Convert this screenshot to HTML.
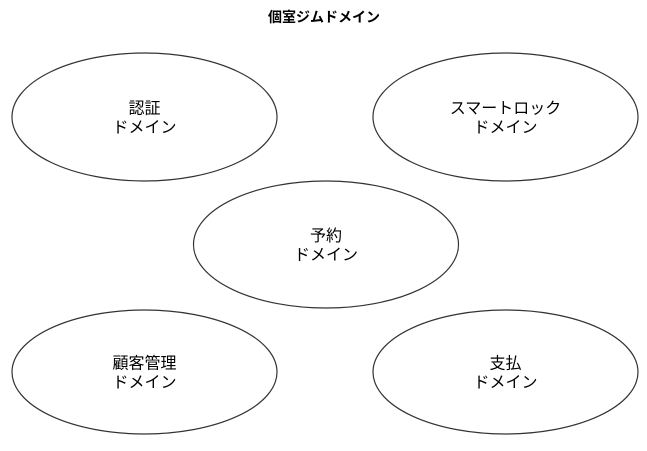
<!DOCTYPE html>
<html><head><meta charset="utf-8"><style>
body{margin:0;background:#fff;}
svg text{font-family:"Liberation Sans","Noto Sans CJK JP",sans-serif;fill:#000;}
</style></head><body>
<svg width="647" height="446" viewBox="0 0 647 446" xmlns="http://www.w3.org/2000/svg">
<rect width="647" height="446" fill="#fff"/>
<text x="324" y="22" font-size="14" font-weight="bold" text-anchor="middle">個室ジムドメイン</text>
<g fill="#fff" stroke="#333" stroke-width="1.2">
<ellipse cx="144.5" cy="117" rx="132.5" ry="64"/>
<ellipse cx="505.5" cy="117" rx="132.5" ry="64"/>
<ellipse cx="326" cy="244.5" rx="132.5" ry="63.5"/>
<ellipse cx="144.5" cy="372" rx="132.5" ry="62"/>
<ellipse cx="505.5" cy="372" rx="132.5" ry="62"/>
</g>
<g font-size="16" text-anchor="middle">
<text x="144.5" y="113.5">認証</text><text x="144.5" y="132.5">ドメイン</text>
<text x="505.5" y="113.5">スマートロック</text><text x="505.5" y="132.5">ドメイン</text>
<text x="326" y="241">予約</text><text x="326" y="260">ドメイン</text>
<text x="144.5" y="368.5">顧客管理</text><text x="144.5" y="387.5">ドメイン</text>
<text x="505.5" y="368.5">支払</text><text x="505.5" y="387.5">ドメイン</text>
</g>
</svg>
</body></html>
